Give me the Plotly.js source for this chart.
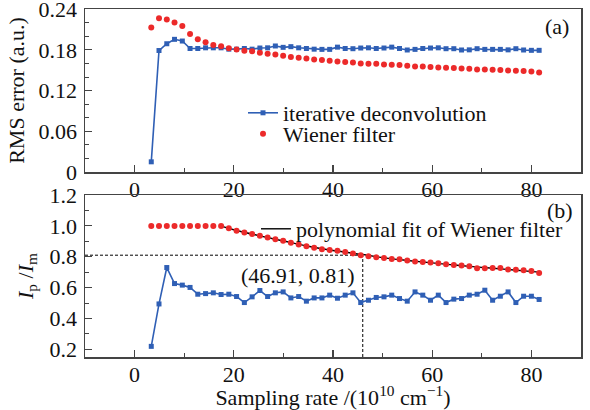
<!DOCTYPE html>
<html>
<head>
<meta charset="utf-8">
<script src="https://cdn.plot.ly/plotly-3.0.1.min.js"></script>
<style>
html,body{margin:0;padding:0;background:#fff;}
#chart{width:590px;height:410px;}
#chart svg text{font-family:"Liberation Serif",serif !important;}
</style>
</head>
<body>
<div id="chart"></div>
<script>
// Sampling rate (10^10 cm^-1)
const samplingRate = [3.36, 4.92, 6.49, 8.05, 9.62, 11.18, 12.74, 14.31, 15.87, 17.44, 19.00, 20.56, 22.13, 23.69, 25.26, 26.82, 28.38, 29.95, 31.51, 33.08, 34.64, 36.20, 37.77, 39.33, 40.90, 42.46, 44.02, 45.59, 47.15, 48.72, 50.28, 51.84, 53.41, 54.97, 56.54, 58.10, 59.66, 61.23, 62.79, 64.36, 65.92, 67.48, 69.05, 70.61, 72.18, 73.74, 75.30, 76.87, 78.43, 80.00, 81.56];

// (a) RMS error
const rmsIterative = [0.015, 0.179, 0.189, 0.1955, 0.193, 0.182, 0.182, 0.183, 0.183, 0.183, 0.181, 0.181, 0.182, 0.181, 0.1827, 0.183, 0.1857, 0.1837, 0.1847, 0.183, 0.182,
  0.181, 0.1807, 0.1807, 0.184, 0.182, 0.1817, 0.1827, 0.183, 0.182, 0.1827, 0.184, 0.182, 0.1798, 0.1807, 0.182, 0.1827, 0.183, 0.1817, 0.1817, 0.1798, 0.180, 0.1817, 0.1807, 0.1807, 0.1807, 0.180, 0.1817, 0.1798, 0.1793, 0.1793];
const rmsWiener = [0.213, 0.2266, 0.2247, 0.2202, 0.2153, 0.2035, 0.1955, 0.1911, 0.1872, 0.1852, 0.1822, 0.1807, 0.1788, 0.1778, 0.1758, 0.1743, 0.1733, 0.1714, 0.1694, 0.1684, 0.1674,
  0.1659, 0.1649, 0.1640, 0.1630, 0.1620, 0.1615, 0.1600, 0.1595, 0.1595, 0.1585, 0.1580, 0.1576, 0.1566, 0.1556, 0.1553,
  0.1549, 0.1541, 0.1536, 0.1531, 0.1526, 0.1521, 0.1511, 0.1511, 0.1506, 0.1502, 0.1497, 0.1492, 0.1487, 0.1482, 0.1467];

// (b) Ip/Im
const ratioIterative = [0.219, 0.494, 0.730, 0.626, 0.616, 0.601, 0.557, 0.561, 0.566, 0.555, 0.557, 0.542, 0.503, 0.540, 0.581, 0.542, 0.566, 0.572, 0.533, 0.542, 0.512, 0.533, 0.533, 0.551, 0.531,
  0.551, 0.566, 0.503, 0.518, 0.536, 0.540, 0.551, 0.529, 0.512, 0.572, 0.551, 0.518, 0.551, 0.503, 0.525, 0.529, 0.551, 0.557, 0.583, 0.518, 0.544, 0.572, 0.503, 0.544, 0.544, 0.523];
const ratioWiener = [1.0, 1.0, 1.0, 1.0, 1.0, 1.0, 1.0, 1.0, 1.0, 1.0,
  0.985, 0.968, 0.957, 0.947, 0.936, 0.924, 0.913, 0.903, 0.890, 0.879, 0.868, 0.858, 0.849, 0.843, 0.838, 0.831, 0.821, 0.810, 0.803, 0.796, 0.792, 0.786, 0.783, 0.775, 0.769, 0.766, 0.762, 0.757, 0.752, 0.747, 0.743, 0.738, 0.725, 0.725, 0.727, 0.727, 0.718, 0.715, 0.713, 0.707, 0.694];

// polynomial fit of Wiener filter
const fitX = [17.44, 20, 25, 30, 35, 40, 46.91, 50, 55, 60, 65, 70, 75, 81.56];
const fitY = [0.998, 0.975, 0.937, 0.902, 0.868, 0.840, 0.810, 0.794, 0.776, 0.760, 0.745, 0.731, 0.718, 0.700];

// marked point
const markX = 46.0, markY = 0.81;
const markLabel = '(46.91, 0.81)';

const xTicks = [0, 20, 40, 60, 80];
const rmsTicks = [0, 0.06, 0.12, 0.18, 0.24];
const rmsTickText = ['0', '0.06', '0.12', '0.18', '0.24'];
const ratioTicks = [0.2, 0.4, 0.6, 0.8, 1.0, 1.2];
const ratioTickText = ['0.2', '0.4', '0.6', '0.8', '1.0', '1.2'];

const BLUE = '#2f5fb5', RED = '#ec2a2a', AX = '#444', TXT = '#111';
const FONT = 'Liberation Serif';
const F22 = () => ({family: FONT, size: 22, color: TXT});

const traces = [
  {x: samplingRate, y: rmsIterative, xaxis: 'x', yaxis: 'y', name: 'iterative deconvolution', legend: 'legend',
   mode: 'lines+markers', line: {color: BLUE, width: 1.6}, marker: {symbol: 'square', size: 5, color: BLUE}},
  {x: samplingRate, y: rmsWiener, xaxis: 'x', yaxis: 'y', name: 'Wiener filter', legend: 'legend3',
   mode: 'markers', marker: {symbol: 'circle', size: 6, color: RED}},
  {x: samplingRate, y: ratioIterative, xaxis: 'x2', yaxis: 'y2', showlegend: false,
   mode: 'lines+markers', line: {color: BLUE, width: 1.6}, marker: {symbol: 'square', size: 5, color: BLUE}},
  {x: fitX, y: fitY, xaxis: 'x2', yaxis: 'y2', name: 'polynomial fit of Wiener filter', legend: 'legend2',
   mode: 'lines', line: {color: '#000', width: 1.4, shape: 'spline'}},
  {x: samplingRate, y: ratioWiener, xaxis: 'x2', yaxis: 'y2', showlegend: false,
   mode: 'markers', marker: {symbol: 'circle', size: 6, color: RED}}
];

const baseX = () => ({
  range: [-10, 90], tickvals: xTicks, ticks: 'inside', ticklen: 7, tickwidth: 1.2, tickcolor: AX,
  minor: {tickvals: [10, 30, 50, 70], ticks: 'inside', ticklen: 4, tickwidth: 1, tickcolor: AX},
  showline: true, mirror: true, linecolor: AX, linewidth: 1.5, showgrid: false, zeroline: false,
  tickfont: F22(), ticklabelstandoff: -3, ticklabeloverflow: 'allow'
});
const baseY = () => ({
  ticks: 'inside', ticklen: 7, tickwidth: 1.2, tickcolor: AX,
  showline: true, mirror: true, linecolor: AX, linewidth: 1.5, showgrid: false, zeroline: false,
  tickfont: F22(), ticklabelstandoff: 2, ticklabeloverflow: 'allow'
});

const px2fx = p => (p - 85) / 496;
const px2fy = p => (357 - p) / 348;

const legendBase = () => ({bgcolor: 'rgba(0,0,0,0)', borderwidth: 0, xanchor: 'left', yanchor: 'middle',
  font: F22(), xref: 'paper', yref: 'paper'});

const layout = {
  width: 590, height: 410,
  margin: {l: 85, r: 9, t: 9, b: 53},
  paper_bgcolor: '#fff', plot_bgcolor: '#fff',
  font: F22(),
  xaxis: Object.assign(baseX(), {anchor: 'y', domain: [0, 1]}),
  yaxis: Object.assign(baseY(), {anchor: 'x', domain: [px2fy(172), 1], range: [0, 0.2402],
    tickvals: rmsTicks, ticktext: rmsTickText,
    minor: {tickvals: [0.02, 0.04, 0.08, 0.10, 0.14, 0.16, 0.20, 0.22], ticks: 'inside', ticklen: 4, tickwidth: 1, tickcolor: AX},
    title: {text: 'RMS error (a.u.)', standoff: 8, font: F22()}}),
  xaxis2: Object.assign(baseX(), {anchor: 'y2', domain: [0, 1],
    title: {text: 'Sampling rate /(10<sup>10</sup> cm<sup>−1</sup>)', standoff: 5, font: F22()}}),
  yaxis2: Object.assign(baseY(), {anchor: 'x2', domain: [0, px2fy(195)], range: [0.15, 1.2002],
    tickvals: ratioTicks, ticktext: ratioTickText,
    minor: {tickvals: [0.3, 0.5, 0.7, 0.9, 1.1], ticks: 'inside', ticklen: 4, tickwidth: 1, tickcolor: AX},
    title: {text: '<i>I</i><sub>p</sub> /<i>I</i><sub>m</sub>', standoff: 10, font: F22()}}),
  legend: Object.assign(legendBase(), {x: px2fx(243), y: px2fy(113)}),
  legend3: Object.assign(legendBase(), {x: px2fx(243), y: px2fy(134)}),
  legend2: Object.assign(legendBase(), {x: px2fx(256), y: px2fy(229)}),
  shapes: [
    {type: 'line', xref: 'x2', yref: 'y2', x0: -10, x1: markX, y0: markY, y1: markY, layer: 'below',
     line: {color: '#000', width: 1, dash: '3px,2px'}},
    {type: 'line', xref: 'x2', yref: 'y2', x0: markX, x1: markX, y0: 0.15, y1: markY, layer: 'below',
     line: {color: '#000', width: 1, dash: '3px,2px'}}
  ],
  annotations: [
    {text: '(a)', xref: 'paper', yref: 'paper', x: px2fx(557), y: px2fy(27), showarrow: false, xanchor: 'center', yanchor: 'middle', font: F22()},
    {text: '(b)', xref: 'paper', yref: 'paper', x: px2fx(560), y: px2fy(210), showarrow: false, xanchor: 'center', yanchor: 'middle', font: F22()},
    {text: markLabel, xref: 'x2', yref: 'y2', x: 32.9, y: 0.68, showarrow: false, xanchor: 'center', yanchor: 'middle', font: F22()}
  ]
};

Plotly.newPlot('chart', traces, layout, {displayModeBar: false, staticPlot: true});
</script>
</body>
</html>
